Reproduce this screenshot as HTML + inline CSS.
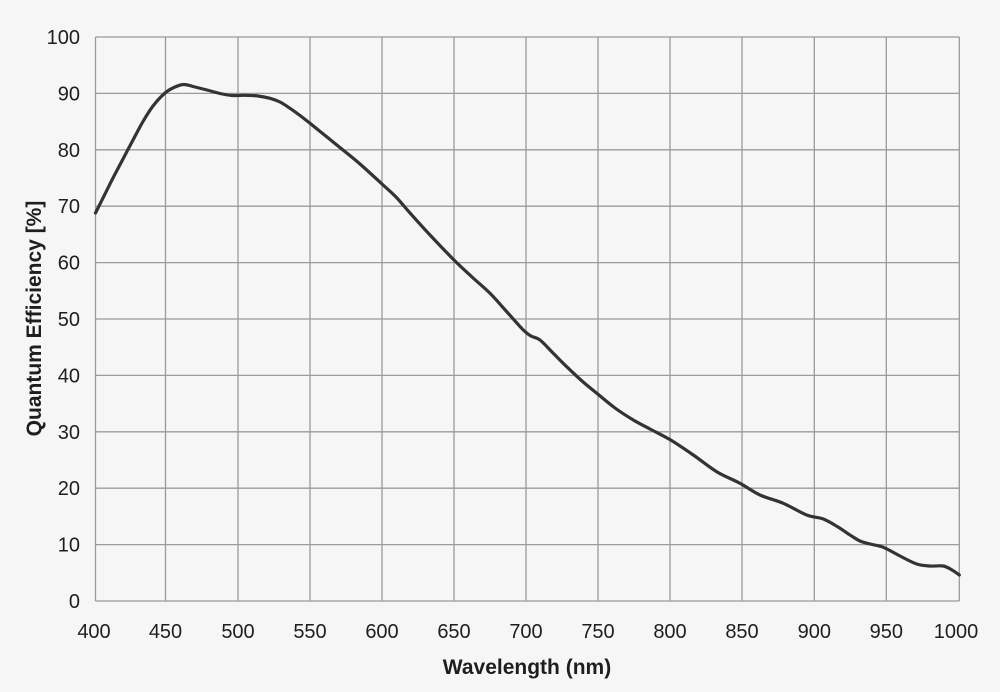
<!DOCTYPE html>
<html>
<head>
<meta charset="utf-8">
<style>
  html,body{margin:0;padding:0;background:#f6f6f6;}
  svg{display:block;}
  text{font-family:"Liberation Sans",sans-serif;fill:#1e1e1e;}
</style>
</head>
<body>
<svg width="1000" height="692" viewBox="0 0 1000 692" xmlns="http://www.w3.org/2000/svg">
  <rect x="0" y="0" width="1000" height="692" fill="#f6f6f6"/>
  <g stroke="#9a9a9a" stroke-width="1.3" fill="none">
    <line x1="95.5" y1="37" x2="959.3" y2="37"/>
    <line x1="95.5" y1="93.4" x2="959.3" y2="93.4"/>
    <line x1="95.5" y1="149.8" x2="959.3" y2="149.8"/>
    <line x1="95.5" y1="206.2" x2="959.3" y2="206.2"/>
    <line x1="95.5" y1="262.6" x2="959.3" y2="262.6"/>
    <line x1="95.5" y1="319" x2="959.3" y2="319"/>
    <line x1="95.5" y1="375.4" x2="959.3" y2="375.4"/>
    <line x1="95.5" y1="431.8" x2="959.3" y2="431.8"/>
    <line x1="95.5" y1="488.2" x2="959.3" y2="488.2"/>
    <line x1="95.5" y1="544.6" x2="959.3" y2="544.6"/>
    <line x1="95.5" y1="601" x2="959.3" y2="601"/>
    <line x1="95.5" y1="37" x2="95.5" y2="601"/>
    <line x1="165.5" y1="37" x2="165.5" y2="601"/>
    <line x1="238" y1="37" x2="238" y2="601"/>
    <line x1="310" y1="37" x2="310" y2="601"/>
    <line x1="382" y1="37" x2="382" y2="601"/>
    <line x1="454" y1="37" x2="454" y2="601"/>
    <line x1="526" y1="37" x2="526" y2="601"/>
    <line x1="598" y1="37" x2="598" y2="601"/>
    <line x1="670" y1="37" x2="670" y2="601"/>
    <line x1="742" y1="37" x2="742" y2="601"/>
    <line x1="814.3" y1="37" x2="814.3" y2="601"/>
    <line x1="886.3" y1="37" x2="886.3" y2="601"/>
    <line x1="959.3" y1="37" x2="959.3" y2="601"/>
  </g>

  <polyline id="qeline" fill="none" stroke="#333" stroke-width="3.2" stroke-linejoin="round" stroke-linecap="round"
    points="95.5,213 104,196 113,178 123,159 133,140 143,121.5 153,106 165,93 175,87 184,84.5 195,87 207,90 220,93.5 232,95.5 245,95.3 258,96 270,98.3 280,102 290,108.3 300,115.5 310,123.3 327,137 343,150 360,164 382,184 396,197 410,213 430,235 454,260 472,277 490,293.3 507,312 523.3,330 531,336 540,340 553,353 566.7,366.7 582,381 597.7,394 615,408 633.3,420 650,429 670.7,440 693.3,455 716.7,471.7 740,483.3 760,495 783.3,503.3 806.7,515 823.3,519 838,527 850,535 860,541 870,544 883.3,547.3 900,556 916.7,564 930,566 943.3,566 952,570 959.3,575"/>
  <path id="qepath" fill="none" stroke="#333" stroke-width="3.2" stroke-linejoin="round" stroke-linecap="round" d=""/>

  <g font-size="20" text-anchor="end">
    <text x="80" y="44">100</text>
    <text x="80" y="100.4">90</text>
    <text x="80" y="156.8">80</text>
    <text x="80" y="213.2">70</text>
    <text x="80" y="269.6">60</text>
    <text x="80" y="326">50</text>
    <text x="80" y="382.4">40</text>
    <text x="80" y="438.8">30</text>
    <text x="80" y="495.2">20</text>
    <text x="80" y="551.6">10</text>
    <text x="80" y="608">0</text>
  </g>
  <g font-size="20" text-anchor="middle">
    <text x="94" y="638">400</text>
    <text x="165.5" y="638">450</text>
    <text x="238" y="638">500</text>
    <text x="310" y="638">550</text>
    <text x="382" y="638">600</text>
    <text x="454" y="638">650</text>
    <text x="526" y="638">700</text>
    <text x="598" y="638">750</text>
    <text x="670" y="638">800</text>
    <text x="742" y="638">850</text>
    <text x="814.3" y="638">900</text>
    <text x="886.3" y="638">950</text>
    <text x="956" y="638">1000</text>
  </g>
  <text x="527" y="674" font-size="21" font-weight="bold" text-anchor="middle">Wavelength (nm)</text>
  <text transform="translate(41,318.5) rotate(-90)" font-size="21" font-weight="bold" text-anchor="middle">Quantum Efficiency [%]</text>
</svg>
<script>
(function(){
  var pl=document.getElementById('qeline');
  var raw=pl.getAttribute('points').trim().split(/\s+/).map(function(s){var a=s.split(',');return [parseFloat(a[0]),parseFloat(a[1])];});
  var d='M'+raw[0][0]+','+raw[0][1];
  for(var i=0;i<raw.length-1;i++){
    var p0=raw[i>0?i-1:i],p1=raw[i],p2=raw[i+1],p3=raw[i+2<raw.length?i+2:i+1];
    var t=1/6;
    var c1x=p1[0]+(p2[0]-p0[0])*t,c1y=p1[1]+(p2[1]-p0[1])*t;
    var c2x=p2[0]-(p3[0]-p1[0])*t,c2y=p2[1]-(p3[1]-p1[1])*t;
    d+=' C'+c1x.toFixed(2)+','+c1y.toFixed(2)+' '+c2x.toFixed(2)+','+c2y.toFixed(2)+' '+p2[0]+','+p2[1];
  }
  document.getElementById('qepath').setAttribute('d',d);
  pl.setAttribute('stroke','none');
})();
</script>
</body>
</html>
